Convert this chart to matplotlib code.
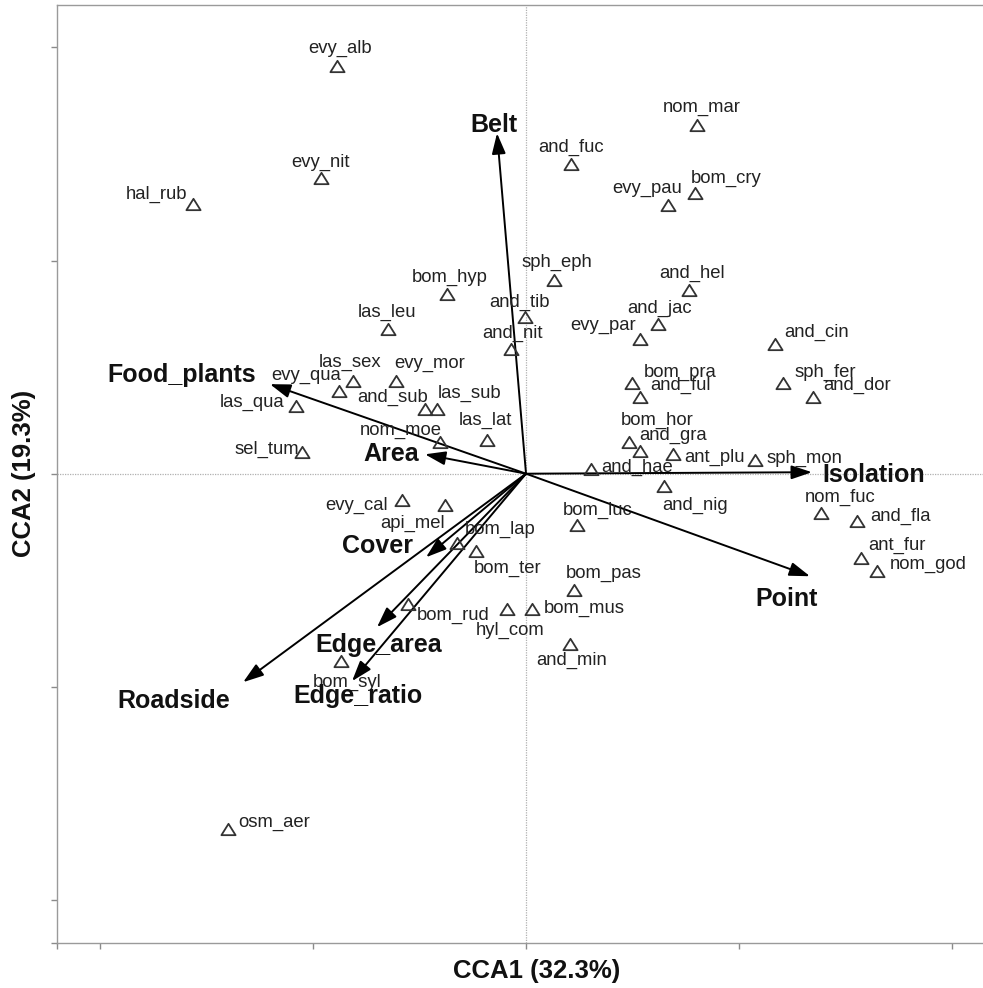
import matplotlib
matplotlib.use("Agg")
import matplotlib.pyplot as plt
from matplotlib.path import Path
from matplotlib.markers import MarkerStyle

plt.rcParams['font.family'] = ['Liberation Sans', 'DejaVu Sans']

# ---------------- data ----------------
species = ["evy_alb", "nom_mar", "and_fuc", "evy_nit", "hal_rub", "evy_pau", "bom_cry",
           "sph_eph", "and_hel", "bom_hyp", "and_tib", "and_jac", "las_leu", "and_cin",
           "evy_par", "and_nit", "las_sex", "evy_mor", "evy_qua", "bom_pra", "sph_fer",
           "and_ful", "and_dor", "las_qua", "and_sub", "las_sub", "bom_hor", "las_lat",
           "nom_moe", "and_gra", "sel_tum", "ant_plu", "sph_mon", "and_hae", "bom_luc",
           "and_nig", "evy_cal", "api_mel", "nom_fuc", "and_fla", "bom_lap", "bom_ter",
           "ant_fur", "nom_god", "bom_pas", "bom_rud", "hyl_com", "bom_mus", "and_min",
           "bom_syl", "osm_aer"]
sp_cca1 = [-0.886, 0.802, 0.211, -0.962, -1.562, 0.666, 0.793,
           0.131, 0.765, -0.371, -0.005, 0.619, -0.647, 1.168,
           0.535, -0.070, -0.811, -0.610, -0.877, 0.497, 1.205,
           0.535, 1.346, -1.079, -0.474, -0.417, 0.483, -0.183,
           -0.403, 0.535, -1.051, 0.690, 1.074, 0.305, 0.239,
           0.647, -0.582, -0.380, 1.384, 1.553, -0.324, -0.235,
           1.571, 1.646, 0.225, -0.553, -0.089, 0.028, 0.206,
           -0.868, -1.398]
sp_cca2 = [1.911, 1.635, 1.452, 1.386, 1.264, 1.259, 1.316,
           0.908, 0.861, 0.842, 0.734, 0.701, 0.678, 0.607,
           0.631, 0.584, 0.434, 0.434, 0.387, 0.424, 0.424,
           0.359, 0.359, 0.317, 0.303, 0.303, 0.148, 0.157,
           0.148, 0.106, 0.101, 0.091, 0.063, 0.021, -0.242,
           -0.059, -0.124, -0.148, -0.185, -0.223, -0.326, -0.364,
           -0.396, -0.457, -0.546, -0.612, -0.636, -0.636, -0.800,
           -0.879, -1.667]

env_vars = ["Belt", "Food_plants", "Area", "Isolation", "Point", "Cover",
            "Roadside", "Edge_area", "Edge_ratio"]
env_cca1 = [-0.136, -1.201, -0.474, 1.341, 1.332, -0.469, -1.327, -0.699, -0.816]
env_cca2 = [1.597, 0.420, 0.091, 0.007, -0.481, -0.392, -0.978, -0.720, -0.973]

x_title = "CCA1 (32.3%)"
y_title = "CCA2 (19.3%)"

# ---------------- label placement (pixels: right, down; text baseline) ----------------
sp_label_off = [(3, -13), (5, -13), (0, -12), (0, -11), (-37, -5), (-21, -12), (31, -10),
                (3, -13), (3, -12), (3, -12), (-5, -10), (2, -11), (-1, -12), (42, -7),
                (-37, -9), (1, -11), (-3, -14), (34, -13), (-33, -11), (48, -6), (42, -6),
                (40, -7), (44, -7), (-44, 1), (-32, -7), (32, -11), (28, -17), (-2, -15),
                (-39, -7), (33, -11), (-35, 2), (41, 8), (49, 3), (46, 3), (21, -10),
                (31, 24), (-45, 10), (-32, 23), (19, -11), (43, 0), (43, -9), (32, 22),
                (36, -8), (51, -2), (30, -12), (45, 16), (3, 26), (52, 4), (2, 21),
                (6, 26), (46, -2)]
env_label_off = [(-3, -1), (-88, -2), (-34, 7), (62, 10), (-23, 30), (-49, -4),
                 (-69, 26), (2, 25), (6, 22)]

# ---------------- figure ----------------
W, H = 983, 988
fig = plt.figure(figsize=(W / 100, H / 100), dpi=100)
ax = fig.add_axes([57 / W, (H - 942.7) / H, 960 / W, 938 / H])
ax.set_xlim(-2.2, 2.303)
ax.set_ylim(-2.2, 2.2)

ax.axhline(0, color='#b0b0b0', lw=0.9, ls=(0, (1, 1)), zorder=0)
ax.axvline(0, color='#b0b0b0', lw=0.9, ls=(0, (1, 1)), zorder=0)

tri = Path([(-1, -0.8), (1, -0.8), (0, 0.8), (-1, -0.8)],
           [Path.MOVETO, Path.LINETO, Path.LINETO, Path.CLOSEPOLY])
tri_marker = MarkerStyle(tri, joinstyle='miter')
ax.plot(sp_cca1, sp_cca2, ls='none', marker=tri_marker, ms=10.2,
        mfc='none', mec='#333333', mew=1.3, zorder=3)

k = 0.72  # px -> pt
for name, x, y, (dx, dy) in zip(species, sp_cca1, sp_cca2, sp_label_off):
    ax.annotate(name, (x, y), xytext=(dx * k, -dy * k), textcoords='offset points',
                ha='center', va='baseline', fontsize=13.3, color='#222222', zorder=4)

for name, x, y, (dx, dy) in zip(env_vars, env_cca1, env_cca2, env_label_off):
    ax.annotate("", xy=(x, y), xytext=(0, 0),
                arrowprops=dict(arrowstyle='-|>,head_length=1.25,head_width=0.42',
                                mutation_scale=10, lw=1.4, color='black',
                                shrinkA=0, shrinkB=0), zorder=2)
    ax.annotate(name, (x, y), xytext=(dx * k, -dy * k), textcoords='offset points',
                ha='center', va='baseline', fontsize=18, fontweight='bold',
                color='#111111', zorder=5)

for s in ['left', 'top', 'bottom']:
    ax.spines[s].set_color('#9a9a9a')
    ax.spines[s].set_linewidth(1.0)
ax.spines['right'].set_visible(False)

ax.set_xticks([-2.2, -2, -1, 0, 1, 2])
ax.set_yticks([-2.2, -2, -1, 0, 1, 2])
ax.set_xticklabels([])
ax.set_yticklabels([])
ax.tick_params(direction='out', length=4.3, width=1.0, color='#8a8a8a')

ax.set_xlabel(x_title, fontsize=18.5, fontweight='bold', color='#111111')
ax.set_ylabel(y_title, fontsize=18.5, fontweight='bold', color='#111111')
ax.xaxis.set_label_coords(0.5, -0.0174)
ax.yaxis.set_label_coords(-0.022, 0.5)

fig.savefig("out.png", dpi=100)
